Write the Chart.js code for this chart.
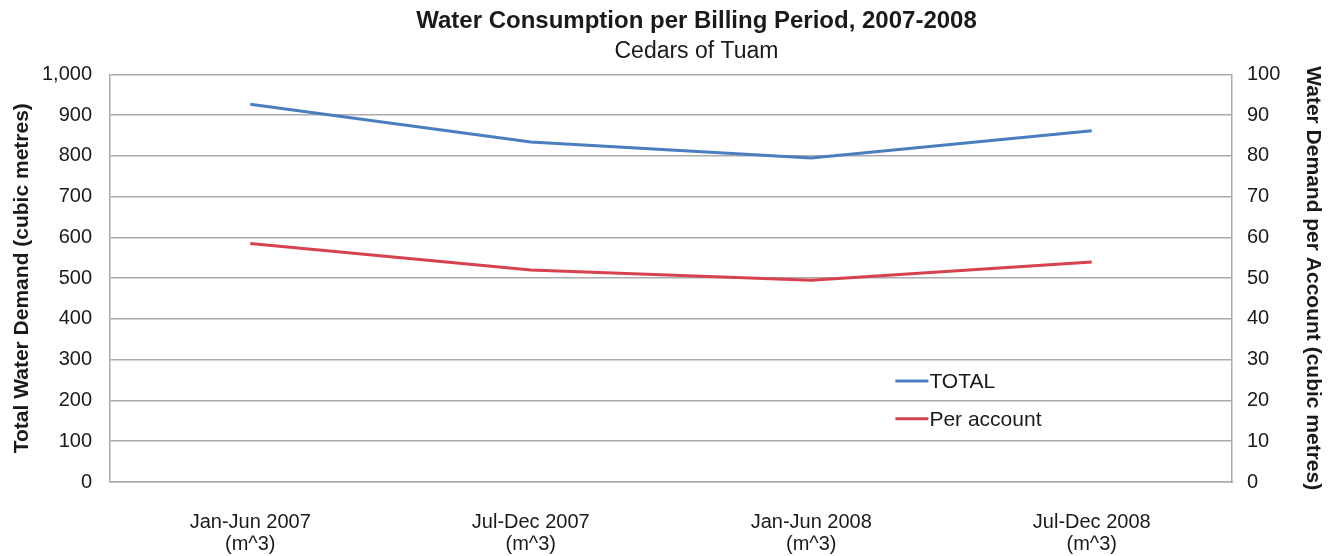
<!DOCTYPE html>
<html>
<head>
<meta charset="utf-8">
<script src="https://cdn.jsdelivr.net/npm/chart.js@4/dist/chart.umd.min.js"></script>
<style>
    html, body { margin: 0; padding: 0; background: #ffffff; }
    .chart-box { width: 1331px; height: 556px; position: relative; }
</style>
</head>
<body>
<div class="chart-box"><canvas id="waterChart"></canvas></div>
<script>
const periods = [
    ['Jan-Jun 2007', '(m^3)'],
    ['Jul-Dec 2007', '(m^3)'],
    ['Jan-Jun 2008', '(m^3)'],
    ['Jul-Dec 2008', '(m^3)']
];
const totalDemand = [927, 834, 795, 862];
const perAccount = [58.5, 52, 49.5, 54];
const leftTicks = [0, 100, 200, 300, 400, 500, 600, 700, 800, 900, 1000];
const rightTicks = [0, 10, 20, 30, 40, 50, 60, 70, 80, 90, 100];

document.addEventListener('DOMContentLoaded', function () {
    initWaterChart();
});

function initWaterChart() {
    const ctx = document.getElementById('waterChart').getContext('2d');
    const fontFamily = '"Liberation Sans", Arial, sans-serif';
    const gridColor = '#ababab';
    const textColor = '#1a1a1a';

    // legend sits inside the plot, lower right, like the original
    const insideLegend = {
        id: 'insideLegend',
        afterDatasetsDraw(chart) {
            const area = chart.chartArea;
            const c = chart.ctx;
            const x = area.left + (area.right - area.left) * 0.700;
            const rows = [0.752, 0.845];
            c.save();
            c.font = '21px ' + fontFamily;
            c.textBaseline = 'middle';
            chart.data.datasets.forEach((ds, i) => {
                const y = area.top + (area.bottom - area.top) * rows[i];
                c.strokeStyle = ds.borderColor;
                c.lineWidth = 3;
                c.beginPath();
                c.moveTo(x, y);
                c.lineTo(x + 33, y);
                c.stroke();
                c.fillStyle = textColor;
                c.fillText(ds.label, x + 34, y + 1);
            });
            c.restore();
        }
    };

    // titles in the original are centred a little right of the canvas middle
    const shiftTitles = {
        id: 'shiftTitles',
        afterLayout(chart) {
            chart.boxes.forEach(b => {
                if (b.position === 'top' && !b.axis) b.left = 62;
            });
        }
    };

    const data = {
        labels: periods,
        datasets: [{
            label: 'TOTAL',
            data: totalDemand,
            yAxisID: 'y',
            borderColor: '#4a7ebe',
            borderWidth: 3,
            pointRadius: 0,
            tension: 0
        }, {
            label: 'Per account',
            data: perAccount,
            yAxisID: 'y1',
            borderColor: '#d8424f',
            borderWidth: 3,
            pointRadius: 0,
            tension: 0
        }]
    };

    const options = {
        responsive: true,
        maintainAspectRatio: false,
        animation: false,
        plugins: {
            legend: { display: false },
            tooltip: { enabled: false },
            title: {
                display: true,
                text: 'Water Consumption per Billing Period, 2007-2008',
                color: textColor,
                font: { family: fontFamily, size: 24, weight: 'bold' },
                padding: { top: 7, bottom: 0 }
            },
            subtitle: {
                display: true,
                text: 'Cedars of Tuam',
                color: textColor,
                font: { family: fontFamily, size: 23 },
                padding: { top: 2, bottom: 9 }
            }
        },
        scales: {
            x: {
                offset: true,
                grid: { display: false },
                border: { display: true, color: gridColor, width: 1.5 },
                ticks: {
                    color: textColor,
                    padding: 21,
                    maxRotation: 0,
                    font: { family: fontFamily, size: 20, lineHeight: 1.1 }
                },
                afterFit(scale) { scale.height = 74; }
            },
            y: {
                position: 'left',
                min: 0,
                max: 1000,
                afterBuildTicks(scale) { scale.ticks = leftTicks.map(v => ({ value: v })); },
                grid: { color: gridColor, lineWidth: 1.5, drawTicks: false },
                border: { display: true, color: gridColor, width: 1.5 },
                ticks: {
                    color: textColor,
                    padding: 18,
                    font: { family: fontFamily, size: 20 },
                    callback: function (value) { return value.toLocaleString('en-US'); }
                },
                title: {
                    display: true,
                    text: 'Total Water Demand (cubic metres)',
                    color: textColor,
                    font: { family: fontFamily, size: 21, weight: 'bold' },
                    padding: { top: 10, bottom: 0 }
                },
                afterFit(scale) { scale.width = 110; }
            },
            y1: {
                position: 'right',
                min: 0,
                max: 100,
                afterBuildTicks(scale) { scale.ticks = rightTicks.map(v => ({ value: v })); },
                grid: { drawOnChartArea: false, drawTicks: false },
                border: { display: true, color: gridColor, width: 1.5 },
                ticks: {
                    color: textColor,
                    padding: 15,
                    font: { family: fontFamily, size: 20 }
                },
                title: {
                    display: true,
                    text: 'Water Demand per Account (cubic metres)',
                    color: textColor,
                    font: { family: fontFamily, size: 21, weight: 'bold' },
                    padding: { top: 6, bottom: 0 }
                },
                afterFit(scale) { scale.width = 99; }
            }
        }
    };

    window.waterChart = new Chart(ctx, { type: 'line', data, options, plugins: [insideLegend, shiftTitles] });
}
</script>
</body>
</html>
